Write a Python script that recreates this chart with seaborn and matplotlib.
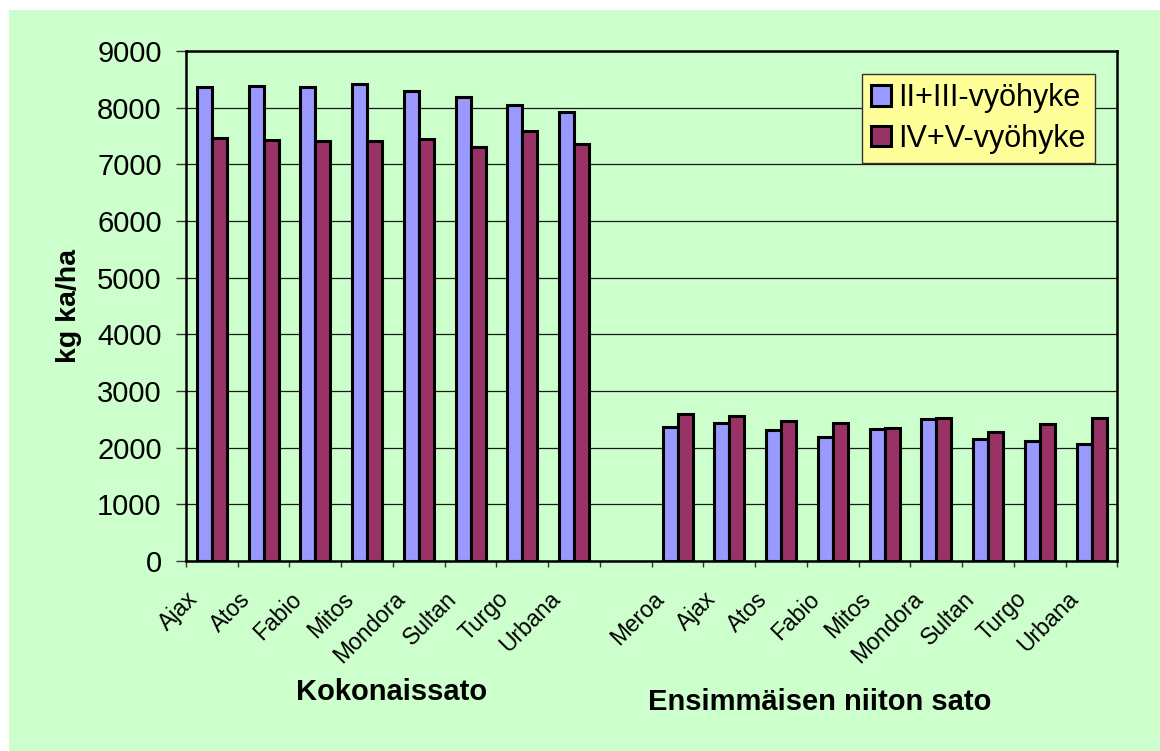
import numpy as np
import pandas as pd
import matplotlib
matplotlib.use("Agg")
import matplotlib.pyplot as plt
import matplotlib.transforms as mtransforms
from matplotlib.patches import Rectangle
import seaborn as sns

# ---- data ----
series_names = ["II+III-vyöhyke", "IV+V-vyöhyke"]
labels_total = ["Ajax", "Atos", "Fabio", "Mitos", "Mondora", "Sultan", "Turgo", "Urbana"]
zone23_total = [8370, 8380, 8360, 8410, 8300, 8190, 8050, 7920]
zone45_total = [7470, 7430, 7420, 7410, 7440, 7300, 7590, 7350]
labels_first = ["Meroa", "Ajax", "Atos", "Fabio", "Mitos", "Mondora", "Sultan", "Turgo", "Urbana"]
zone23_first = [2360, 2440, 2310, 2190, 2330, 2510, 2150, 2110, 2060]
zone45_first = [2590, 2560, 2470, 2430, 2350, 2520, 2270, 2410, 2520]
group_titles = ["Kokonaissato", "Ensimmäisen niiton sato"]
y_label = "kg ka/ha"

# build long table
keys_total = [f"T{i}" for i in range(len(labels_total))]
keys_first = [f"F{i}" for i in range(len(labels_first))]
order = keys_total + ["gap"] + keys_first
tick_labels = labels_total + [""] + labels_first

rows = []
for k, a, b in zip(keys_total, zone23_total, zone45_total):
    rows.append((k, series_names[0], a))
    rows.append((k, series_names[1], b))
for k, a, b in zip(keys_first, zone23_first, zone45_first):
    rows.append((k, series_names[0], a))
    rows.append((k, series_names[1], b))
df = pd.DataFrame(rows, columns=["key", "zone", "value"])

plt.rcParams["font.family"] = ["Liberation Sans", "DejaVu Sans"]

GREEN = "#CCFFCC"
fig = plt.figure(figsize=(11.6, 7.51), dpi=100, facecolor="white")
fig.patches.append(Rectangle((9 / 1160, 0), 1, 1 - 10 / 751, transform=fig.transFigure,
                             facecolor=GREEN, edgecolor="none", zorder=-10))
ax = fig.add_axes([186 / 1160, 1 - 561 / 751, (1117.5 - 186) / 1160, (561 - 51) / 751])
ax.set_facecolor(GREEN)

sns.barplot(data=df, x="key", y="value", hue="zone", order=order, hue_order=series_names,
            palette=["#9999FF", "#993366"], width=0.58, edgecolor="black", linewidth=2.2,
            saturation=1, errorbar=None, ax=ax, zorder=3)

ax.set_xlim(-0.5, len(order) - 0.5)
ax.set_ylim(0, 9000)
ax.set_yticks(np.arange(0, 9001, 1000))
ax.yaxis.grid(True, color="#1a1a1a", linewidth=0.9)
ax.set_axisbelow(True)
for s in ax.spines.values():
    s.set_color("black")
    s.set_linewidth(1.8)

ax.tick_params(axis="y", direction="out", length=7, width=1, color="#333333",
               labelsize=21, pad=10.5)

# x: labels at centers, tick marks at boundaries
ax.set_xticks(range(len(order)))
ax.set_xticklabels(tick_labels, rotation=45, ha="right", va="top", fontsize=16.5)
ax.tick_params(axis="x", which="major", length=0, pad=19)
ax.set_xticks(np.arange(-0.5, len(order), 1), minor=True)
ax.tick_params(axis="x", which="minor", direction="out", length=4.5, width=1, color="#333333")
offset = mtransforms.ScaledTranslation(-9 / 100, 0, fig.dpi_scale_trans)
for lab in ax.get_xticklabels():
    lab.set_transform(lab.get_transform() + offset)

ax.set_xlabel("")
ax.set_ylabel(y_label, fontsize=20.5, fontweight="bold", labelpad=11)

fig.text(392 / 1160, 1 - 692 / 751, group_titles[0], fontsize=21, fontweight="bold",
         ha="center", va="center")
fig.text(820 / 1160, 1 - 702 / 751, group_titles[1], fontsize=21, fontweight="bold",
         ha="center", va="center")

handles, labels = ax.get_legend_handles_labels()
leg = ax.legend(handles, labels, loc="upper right", bbox_to_anchor=(0.976, 0.955),
                bbox_transform=ax.transAxes, borderaxespad=0, fontsize=22,
                frameon=True, fancybox=False, shadow=False, framealpha=1,
                facecolor="#FFFF99", edgecolor="#333333", handlelength=0.65,
                handleheight=0.65, handletextpad=0.25, labelspacing=0.35, borderpad=0.3)
leg.get_frame().set_linewidth(1)
leg.set_zorder(5)

fig.savefig("out.png", dpi=100, facecolor="white")
